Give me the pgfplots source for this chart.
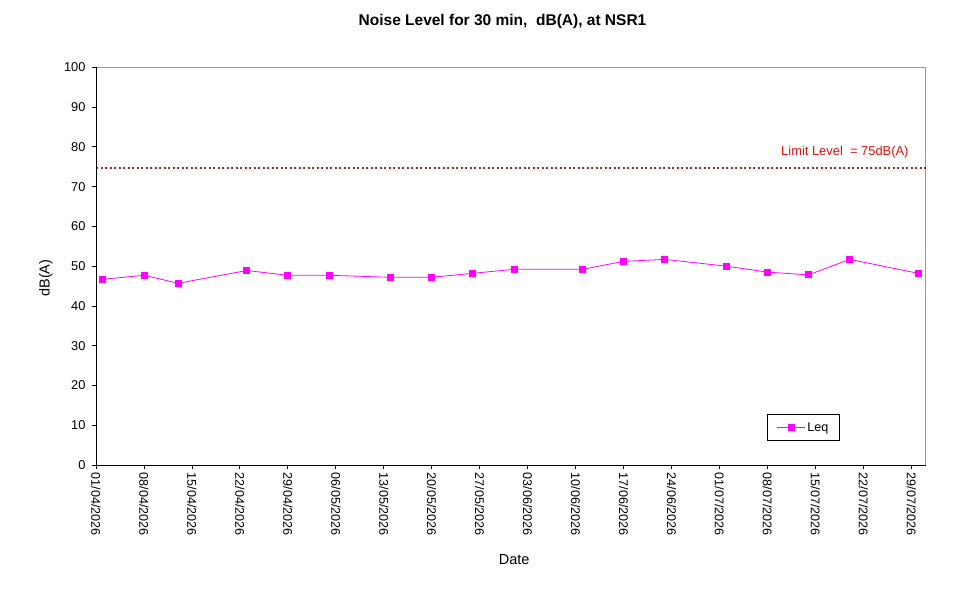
\documentclass[border=0pt]{standalone}
\usepackage{pgfplots}
\pgfplotsset{compat=1.18}
\usepackage{fontspec}
\setmainfont{Liberation Sans}
\definecolor{leq}{HTML}{FF00FF}
\definecolor{limitc}{HTML}{A02828}
\definecolor{limittext}{HTML}{E01010}
\begin{document}
\begin{tikzpicture}
\path[use as bounding box] (0bp,0bp) rectangle (967bp,590bp);
\begin{axis}[
  at={(96bp,125bp)}, anchor=south west,
  scale only axis, width=829.7bp, height=397.7bp,
  xmin=0, xmax=121.1, ymin=0, ymax=100,
  xtick={0,7,...,119},
  xticklabels={01/04/2026,08/04/2026,15/04/2026,22/04/2026,29/04/2026,06/05/2026,13/05/2026,20/05/2026,27/05/2026,03/06/2026,10/06/2026,17/06/2026,24/06/2026,01/07/2026,08/07/2026,15/07/2026,22/07/2026,29/07/2026},
  ytick={0,10,...,100},
  tick align=outside, major tick length=4bp,
  xtick pos=bottom, ytick pos=left,
  tick style={black, line width=0.8bp},
  axis line style={gray!80, line width=0.8bp},
  x tick label style={rotate=-90, anchor=west, font=\fontsize{12.6bp}{14bp}\selectfont},
  y tick label style={font=\fontsize{12.8bp}{14bp}\selectfont, xshift=-3bp},
  /pgf/number format/assume math mode=true,
  xlabel={Date}, ylabel={dB(A)},
  xlabel style={font=\fontsize{14.5bp}{16bp}\selectfont, at={(axis description cs:0.504,0)}, anchor=center, yshift=-95bp},
  ylabel style={font=\fontsize{14.5bp}{16bp}\selectfont, at={(axis description cs:-0.0603,0.470)}, anchor=center},
  legend style={at={(axis description cs:0.8965,0.128)}, anchor=north east, draw=black, line width=0.8bp, font=\fontsize{12.6bp}{14bp}\selectfont, inner xsep=9bp, inner ysep=6bp},
  legend image code/.code={
    \draw[#1, line width=0.8bp] (0bp,0bp) -- (28bp,0bp);
    \draw[#1, mark repeat=2, mark phase=2] plot coordinates {(0bp,0bp) (14bp,0bp) (28bp,0bp)};
  },
  legend cell align=left,
  clip=false,
]
\addplot[limitc, line width=2bp, dash pattern=on 2.4bp off 2.1bp, forget plot] coordinates {(0,74.8) (121.1,74.8)};
\addplot[leq, line width=0.8bp, mark=square*, mark size=3bp, mark options={solid, fill=leq, draw=leq}] coordinates {
(1,46.7) (7,47.7) (12,45.7) (22,48.9) (28,47.7) (34,47.7) (43,47.2) (49,47.2) (55,48.2) (61,49.2)
(71,49.2) (77,51.2) (83,51.7) (92,50.0) (98,48.5) (104,47.8) (110,51.7) (120,48.2)
};
\addlegendentry{Leq}
\draw[black, line width=0.8bp] (rel axis cs:0,1) -- (rel axis cs:0,0) -- (rel axis cs:1,0);
\node[text=limittext, font=\fontsize{12.9bp}{14bp}\selectfont] at (axis cs:109.3,78.6) {Limit Level \ = 75dB(A)};
\end{axis}
\node[font=\fontsize{15.5bp}{17bp}\selectfont\bfseries] at (502.5bp,569bp) {Noise Level for 30 min, \ dB(A), at NSR1};
\end{tikzpicture}
\end{document}
